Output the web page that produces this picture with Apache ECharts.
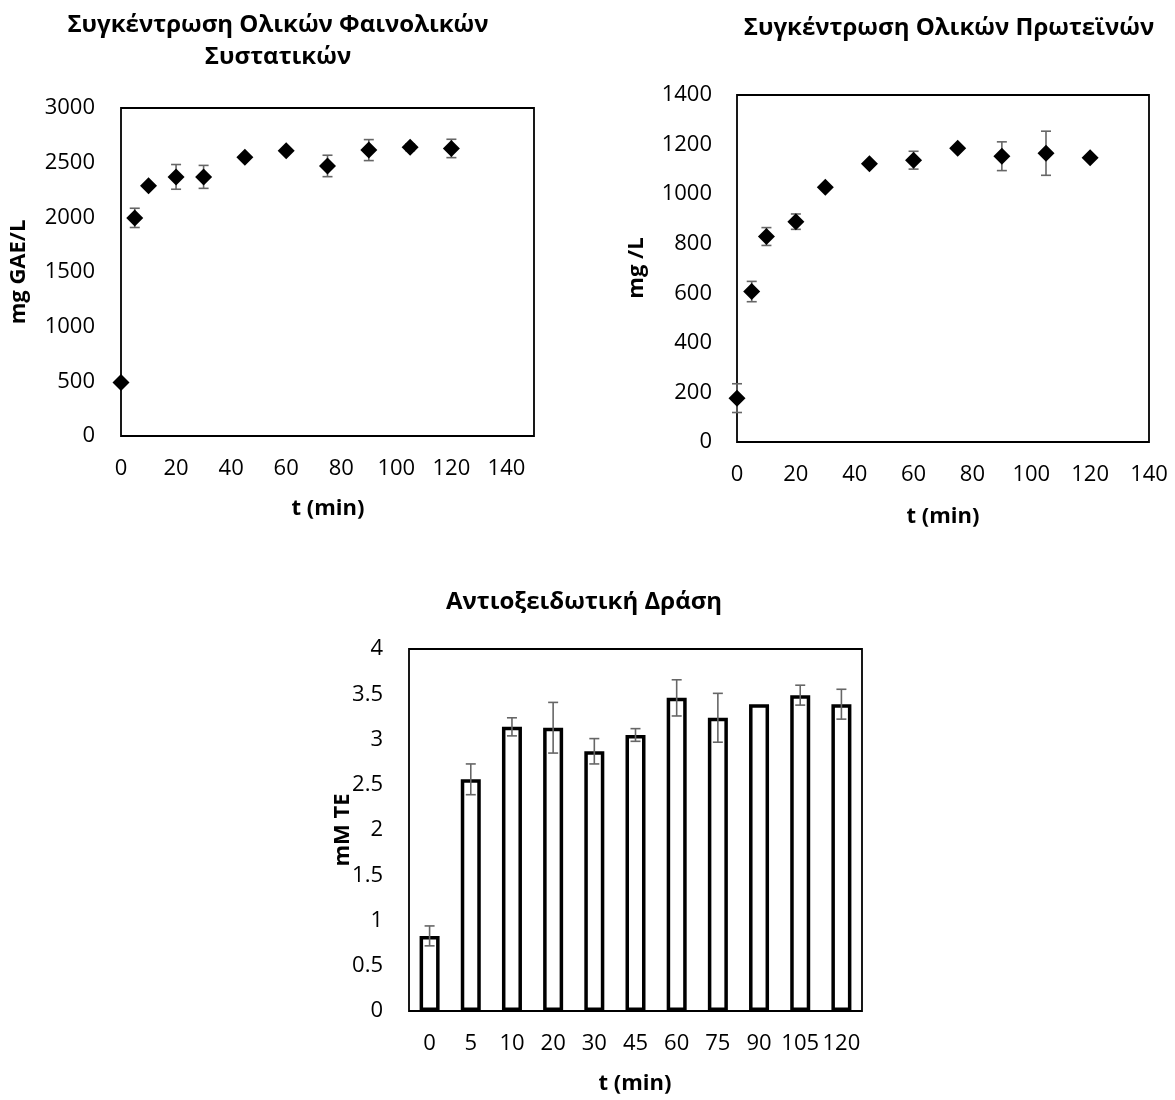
<!DOCTYPE html>
<html>
<head>
<meta charset="utf-8">
<script src="https://cdn.jsdelivr.net/npm/echarts@6/dist/echarts.min.js"></script>
<style>
html,body{margin:0;padding:0;background:#fff;}
#chart{width:1175px;height:1100px;}
</style>
</head>
<body>
<div id="chart"></div>
<script>
// ---- data ----
const timesMin = [0, 5, 10, 20, 30, 45, 60, 75, 90, 105, 120];
const phenolMean = [490, 1995, 2290, 2370, 2370, 2550, 2610, 2470, 2615, 2640, 2630];
const phenolErr = [0, 88, 0, 113, 105, 0, 0, 98, 96, 30, 84];
const proteinMean = [177, 607, 829, 889, 1028, 1123, 1137, 1185, 1153, 1165, 1147];
const proteinErr = [58, 41, 36, 31, 0, 0, 36, 0, 58, 89, 0];
const barCategories = ['0', '5', '10', '20', '30', '45', '60', '75', '90', '105', '120'];
const antioxMean = [0.83, 2.56, 3.14, 3.13, 2.87, 3.05, 3.46, 3.24, 3.39, 3.49, 3.39];
const antioxErr = [0.11, 0.17, 0.10, 0.28, 0.14, 0.07, 0.20, 0.27, 0, 0.11, 0.165];
const titles = ['Συγκέντρωση Ολικών Φαινολικών\nΣυστατικών', 'Συγκέντρωση Ολικών Πρωτεϊνών', 'Αντιοξειδωτική Δράση'];
const yNames = ['mg GAE/L', 'mg /L', 'mM TE'];
const xName = 't (min)';

const FONT = "'Open Sans', 'Noto Sans', sans-serif";
const ERR_COLOR = '#666666';

function errRender(params, api) {
  const x = api.value(0), y = api.value(1), e = api.value(2);
  if (!e) return null;
  const top = api.coord([x, y + e]);
  const bot = api.coord([x, y - e]);
  const w = 5;
  const st = { stroke: ERR_COLOR, lineWidth: 1.6 };
  return {
    type: 'group',
    children: [
      { type: 'line', shape: { x1: top[0], y1: top[1], x2: bot[0], y2: bot[1] }, style: st },
      { type: 'line', shape: { x1: top[0] - w, y1: top[1], x2: top[0] + w, y2: top[1] }, style: st },
      { type: 'line', shape: { x1: bot[0] - w, y1: bot[1], x2: bot[0] + w, y2: bot[1] }, style: st }
    ]
  };
}

const axisLabelStyle = { color: '#000', fontSize: 22, fontFamily: FONT, formatter: v => String(v) };

function valueXAxis(idx, max) {
  return {
    gridIndex: idx, type: 'value', min: 0, max: max, interval: 20,
    axisLine: { show: false }, axisTick: { show: false }, splitLine: { show: false },
    axisLabel: Object.assign({ margin: 22, showMaxLabel: max === 140 }, axisLabelStyle)
  };
}
function valueYAxis(idx, max, interval, margin) {
  return {
    gridIndex: idx, type: 'value', min: 0, max: max, interval: interval,
    axisLine: { show: false }, axisTick: { show: false }, splitLine: { show: false },
    axisLabel: Object.assign({ margin: margin }, axisLabelStyle)
  };
}

const gridBorder = { show: true, borderColor: '#000', borderWidth: 1.8, backgroundColor: 'transparent' };

const boldText = (t, x, y, size, rot) => ({
  type: 'text', x: x, y: y, rotation: rot || 0,
  style: { text: t, fill: '#000', font: 'bold ' + size + 'px ' + FONT, align: 'center', verticalAlign: 'middle', lineHeight: 32 }
});

const option = {
  animation: false,
  backgroundColor: '#fff',
  textStyle: { fontFamily: FONT },
  grid: [
    Object.assign({ left: 121, top: 108, width: 413, height: 328 }, gridBorder),
    Object.assign({ left: 737, top: 95, width: 412, height: 347 }, gridBorder),
    Object.assign({ left: 409, top: 649, width: 453, height: 362 }, gridBorder)
  ],
  xAxis: [
    valueXAxis(0, 150),
    valueXAxis(1, 140),
    {
      gridIndex: 2, type: 'category', data: barCategories, boundaryGap: true,
      axisLine: { show: false }, axisTick: { show: false }, splitLine: { show: false },
      axisLabel: Object.assign({ margin: 22, interval: 0 }, axisLabelStyle)
    }
  ],
  yAxis: [
    valueYAxis(0, 3000, 500, 26),
    valueYAxis(1, 1400, 200, 25),
    valueYAxis(2, 4, 0.5, 26)
  ],
  graphic: [
    boldText(titles[0], 278, 41, 24),
    boldText(titles[1], 949, 28, 24),
    boldText(titles[2], 584, 602, 24),
    boldText(yNames[0], 19, 272, 22, Math.PI / 2),
    boldText(yNames[1], 637, 268, 22, Math.PI / 2),
    boldText(yNames[2], 343, 830, 22, Math.PI / 2),
    boldText(xName, 328, 509, 22),
    boldText(xName, 943, 517, 22),
    boldText(xName, 635, 1084, 22)
  ],
  series: [
    {
      type: 'custom', xAxisIndex: 0, yAxisIndex: 0, renderItem: errRender, z: 1,
      encode: { x: 0, y: 1 },
      data: timesMin.map((t, i) => [t, phenolMean[i], phenolErr[i]])
    },
    {
      type: 'scatter', xAxisIndex: 0, yAxisIndex: 0, symbol: 'diamond', symbolSize: 17, z: 3,
      itemStyle: { color: '#000', opacity: 1 },
      data: timesMin.map((t, i) => [t, phenolMean[i]])
    },
    {
      type: 'custom', xAxisIndex: 1, yAxisIndex: 1, renderItem: errRender, z: 1,
      encode: { x: 0, y: 1 },
      data: timesMin.map((t, i) => [t, proteinMean[i], proteinErr[i]])
    },
    {
      type: 'scatter', xAxisIndex: 1, yAxisIndex: 1, symbol: 'diamond', symbolSize: 17, z: 3,
      itemStyle: { color: '#000', opacity: 1 },
      data: timesMin.map((t, i) => [t, proteinMean[i]])
    },
    {
      type: 'bar', xAxisIndex: 2, yAxisIndex: 2, barWidth: 20, z: 2,
      itemStyle: { color: '#fff', borderColor: '#000', borderWidth: 3.5 },
      data: antioxMean
    },
    {
      type: 'custom', xAxisIndex: 2, yAxisIndex: 2, renderItem: errRender, z: 4,
      encode: { x: 0, y: 1 },
      data: antioxMean.map((v, i) => [i, v, antioxErr[i]])
    }
  ]
};

const chart = echarts.init(document.getElementById('chart'), null, { renderer: 'canvas' });
chart.setOption(option);
</script>
</body>
</html>
